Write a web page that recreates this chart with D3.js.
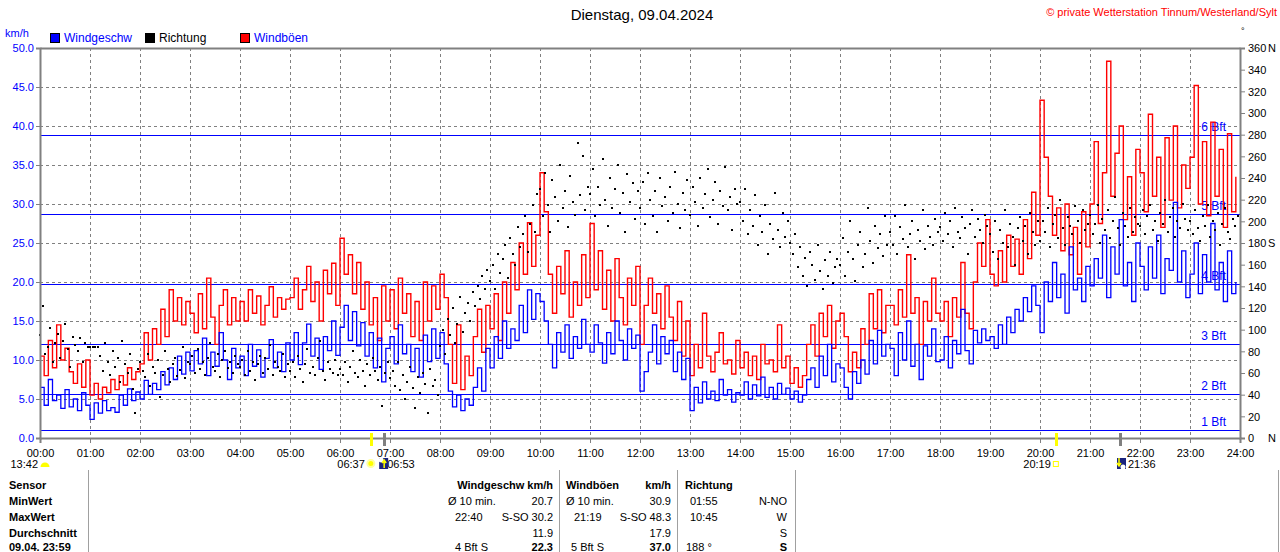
<!DOCTYPE html>
<html>
<head>
<meta charset="utf-8">
<script src="https://d3js.org/d3.v7.min.js"></script>
<title>Wind - Dienstag, 09.04.2024</title>
<style>
  body { margin:0; background:#fff; }
  svg  { display:block; font-family:"Liberation Sans", Arial, sans-serif; font-size:11px; }
  .axis text { font-family:"Liberation Sans", Arial, sans-serif; font-size:11px; }
  .b { font-weight:bold; }
</style>
</head>
<body>
<svg id="chart" width="1280" height="552"></svg>
<script>
// ---- data ----
// wind speed km/h, one value every 5 minutes, one row per hour
var windSpeed = [
  6.5,4.2,7.5,4.8,5.5,3.8,6.2,4.0,5.0,3.5,5.8,4.2,
  2.4,4.5,3.2,4.8,3.5,3.9,3.3,5.5,4.2,6.3,4.8,5.9,
  5.0,7.4,5.6,7.0,6.2,8.5,6.8,9.0,7.5,10.5,8.2,11.0,
  8.6,11.2,9.5,12.8,8.0,11.0,9.2,13.5,10.0,7.5,11.5,9.0,
  10.5,8.0,12.0,9.2,11.3,7.8,10.2,12.6,9.0,11.0,8.5,12.2,
  10.0,13.5,9.4,12.2,14.6,10.5,12.8,8.8,13.0,11.2,15.0,10.6,
  14.2,17.0,12.5,16.2,11.8,14.8,10.5,13.5,9.0,12.8,7.2,11.5,
  13.0,9.5,14.5,10.8,12.0,8.5,11.5,7.8,13.2,9.8,14.0,10.2,
  13.5,9.5,6.0,4.0,5.5,3.5,5.0,4.2,6.5,9.0,6.0,11.5,
  9.0,13.0,10.2,15.0,11.5,14.0,12.5,17.0,13.5,19.0,15.2,18.5,
  17.5,15.0,12.0,9.0,13.5,11.0,14.5,10.2,13.0,11.5,15.2,12.0,
  11.0,14.5,12.2,9.6,13.5,10.8,15.0,12.5,10.0,14.0,11.5,13.2,
  6.0,8.5,11.0,14.5,9.5,13.0,10.8,12.5,8.5,11.0,7.5,10.2,
  3.5,6.5,4.5,7.2,5.0,6.0,4.8,7.5,5.5,6.2,4.6,5.8,
  5.5,7.2,5.0,6.8,5.4,7.8,5.2,6.5,5.0,7.0,5.6,6.4,
  5.0,6.0,4.6,5.5,7.5,9.0,6.5,10.5,8.0,12.0,7.2,9.5,
  9.0,6.5,5.0,8.5,7.0,10.0,8.2,12.5,9.5,13.8,10.5,12.0,
  11.5,8.0,13.5,10.0,15.0,9.2,12.0,7.5,11.8,10.5,14.0,9.8,
  10.0,13.0,9.0,12.5,10.8,16.5,11.2,9.5,13.8,12.2,14.0,12.5,
  13.0,11.5,14.5,12.0,15.5,13.5,16.5,15.0,18.0,16.2,19.5,17.0,
  13.5,20.0,17.5,22.5,18.0,21.0,16.0,24.5,19.0,20.5,17.5,22.0,
  19.5,23.0,20.5,26.0,18.0,24.5,21.0,28.0,19.5,22.5,17.5,25.0,
  22.0,19.0,24.5,20.5,26.0,18.5,23.0,21.5,30.2,20.0,24.0,18.0,
  21.0,25.0,18.5,23.5,20.0,27.5,19.0,22.5,17.5,24.0,18.5,20.0
];
// gusts km/h, every 5 minutes
var windGust = [
  10.5,8.0,12.5,9.0,14.5,10.0,11.5,8.5,7.0,9.5,6.5,10.0,
  5.5,7.0,5.0,6.5,5.8,7.5,6.2,8.0,6.8,9.0,7.5,8.5,
  9.5,13.5,10.0,14.0,12.0,16.5,13.0,19.0,15.0,18.0,14.5,17.5,
  16.0,13.5,18.5,14.0,20.5,15.5,12.0,17.0,19.0,14.5,18.0,15.0,
  17.5,15.0,19.0,16.0,18.2,14.5,17.0,19.4,15.5,18.0,16.5,17.8,
  18.0,20.5,16.5,19.0,22.0,17.5,20.0,15.0,21.5,18.5,22.4,17.0,
  25.6,21.0,23.5,18.5,22.5,16.5,20.0,14.5,18.0,12.5,19.5,15.0,
  19.0,14.0,20.5,16.0,18.5,13.0,17.5,12.5,20.0,15.0,19.5,16.5,
  21.0,18.0,12.0,7.0,14.5,6.2,10.5,8.0,13.0,16.5,11.0,17.0,
  14.0,18.5,12.5,20.0,16.0,22.5,19.0,25.0,21.0,27.6,22.0,26.0,
  34.0,29.0,21.0,16.0,22.0,18.5,24.0,15.5,20.0,17.0,23.5,18.0,
  27.5,19.0,24.0,16.5,21.5,15.0,23.0,18.0,14.5,20.5,17.0,22.0,
  12.0,17.0,20.5,16.0,18.5,14.0,19.5,15.5,12.5,17.5,10.5,15.0,
  8.0,12.0,9.0,16.0,10.5,8.5,11.0,13.5,9.5,10.0,8.2,12.5,
  9.0,11.0,8.0,10.5,7.5,12.0,9.5,10.0,8.5,14.5,9.0,10.5,
  7.0,9.0,6.5,8.0,12.0,14.5,10.5,16.0,13.0,17.0,11.5,15.0,
  16.0,13.0,8.5,11.0,9.0,14.0,12.0,18.5,14.0,19.0,13.5,17.0,
  17.0,14.5,19.0,15.5,23.5,16.0,18.0,12.0,17.5,15.0,20.5,16.0,
  15.0,17.5,13.0,18.0,15.5,22.5,16.0,14.0,20.0,25.0,22.0,28.0,
  21.0,19.5,24.0,20.0,26.0,22.0,25.5,21.0,28.0,23.0,31.5,26.0,
  43.3,36.0,31.0,26.0,29.5,24.0,30.0,23.5,27.0,21.0,29.0,24.5,
  30.0,38.0,27.5,34.0,48.3,31.0,36.5,40.0,28.0,33.5,26.0,37.0,
  34.0,29.0,41.5,31.0,36.0,27.0,38.5,30.5,40.0,29.5,35.0,32.0,
  36.0,45.2,30.0,38.0,28.5,40.5,31.0,37.0,27.0,39.0,29.0,33.5
];
// direction in degrees, every 3 minutes
var windDir = [
  95,122,78,84,102,70,88,96,74,90,105,82,66,93,86,80,92,70,88,84,
  84,84,84,84,76,62,88,70,58,80,66,74,52,90,68,60,78,45,23,64,
  70,62,56,78,48,66,60,72,38,58,80,64,52,68,74,57,63,84,55,70,
  68,76,60,82,64,70,58,74,88,66,62,78,56,72,80,65,70,60,76,68,
  66,72,58,80,62,70,54,68,76,60,74,64,86,58,70,66,62,78,56,68,
  62,70,56,76,64,52,68,82,60,66,58,74,90,62,54,70,64,60,72,58,
  64,58,70,52,66,80,60,56,72,62,48,68,58,74,62,54,66,30,60,70,
  55,62,48,70,44,58,36,52,66,46,28,56,42,60,50,23,64,48,54,40,
  85,100,78,110,95,120,88,105,130,98,115,125,108,135,122,140,128,150,138,155,
  145,160,138,170,152,165,178,148,185,170,160,195,176,188,205,172,198,215,190,225,
  230,205,245,215,190,238,222,200,252,212,228,195,242,218,206,272,224,260,210,232,
  225,248,205,232,215,258,220,196,240,212,230,252,208,226,190,244,218,235,202,228,
  212,236,198,245,220,205,228,190,240,214,222,200,232,208,246,216,194,226,210,238,
  206,232,218,196,240,212,225,248,204,220,236,198,228,214,250,210,222,192,230,216,
  218,200,230,188,210,196,224,178,205,190,215,170,198,184,226,192,176,208,186,200,
  180,170,188,158,176,150,166,140,172,160,146,178,154,138,164,150,172,143,158,165,
  160,185,150,172,200,165,145,178,190,158,170,212,182,162,196,175,188,168,205,178,
  190,178,205,170,195,184,215,176,188,200,165,192,182,210,174,196,186,178,202,190,
  195,182,208,188,200,176,212,190,185,204,194,170,198,210,186,202,192,180,206,196,
  188,172,200,165,192,180,210,176,198,186,160,194,204,182,196,170,208,190,178,200,
  182,200,190,212,176,198,206,185,220,194,178,204,196,188,214,200,180,210,192,198,
  206,188,198,215,180,202,192,210,185,200,222,194,178,208,196,186,212,190,204,198,
  196,210,188,205,215,192,200,182,208,198,220,190,204,212,186,200,194,216,202,192,
  200,188,210,194,182,205,196,215,186,200,192,208,178,198,212,190,184,202,196,205
];
// Beaufort limits (km/h) drawn as blue lines
var bftLimits = [1.0, 5.7, 12.1, 19.7, 28.7, 38.8];
var bftLabels = ["1 Bft","2 Bft","3 Bft","4 Bft","5 Bft","6 Bft"];
// sun / moon times
var sunMoon = [
  {time:"06:37", h:6+37/60,  kind:"sunrise"},
  {time:"06:53", h:6+53/60,  kind:"moonrise"},
  {time:"20:19", h:20+19/60, kind:"sunset"},
  {time:"21:36", h:21+36/60, kind:"moonset"}
];
var dirNames = [{deg:0, name:"N"}, {deg:180, name:"S"}, {deg:360, name:"N"}];

// statistics table
var rowLabels = ["Sensor","MinWert","MaxWert","Durchschnitt","09.04.  23:59"];
var speedCol = [["Ø 10 min.","20.7"],["22:40","S-SO 30.2"],["","11.9"],["4 Bft S","22.3"]];
var gustCol  = [["Ø 10 min.","30.9"],["21:19","S-SO 48.3"],["","17.9"],["5 Bft S","37.0"]];
var dirCol   = [["01:55","N-NO"],["10:45","W"],["","S"],["188 °","S"]];

// ---- drawing ----
var svg = d3.select("#chart");
var x = d3.scaleLinear().domain([0,24]).range([40,1240]);
var y = d3.scaleLinear().domain([0,50]).range([438,48]);
var yDir = d3.scaleLinear().domain([0,360]).range([438,48]);
var grey = "#808080";

// title, copyright
svg.append("text").attr("x",642).attr("y",20).attr("text-anchor","middle")
   .style("font-size","15px").text("Dienstag, 09.04.2024");
svg.append("text").attr("x",1277).attr("y",16).attr("text-anchor","end")
   .style("font-size","11px").attr("fill","#ff0000")
   .text("© private Wetterstation Tinnum/Westerland/Sylt");
svg.append("text").attr("x",1241).attr("y",34).style("font-size","9px").text("°");

// legend
svg.append("text").attr("x",5).attr("y",37).attr("fill","#0000ff").text("km/h");
var legend = [
  {name:"Windgeschw", col:"#0000ff", txt:"#0000ff", x:50},
  {name:"Richtung",   col:"#000000", txt:"#000000", x:145},
  {name:"Windböen",   col:"#ff0000", txt:"#0000ff", x:240}
];
var lg = svg.append("g").selectAll("g").data(legend).join("g");
lg.append("rect").attr("x",d=>d.x+0.5).attr("y",33.5).attr("width",9).attr("height",9)
  .attr("fill",d=>d.col).attr("stroke","#000");
lg.append("text").attr("x",d=>d.x+14).attr("y",42).attr("fill",d=>d.txt)
  .style("font-size","12px").text(d=>d.name);

// dashed grid
svg.append("g").selectAll("line").data(d3.range(5,50,5)).join("line")
  .attr("x1",x(0)).attr("x2",x(24)).attr("y1",d=>Math.round(y(d))+0.5).attr("y2",d=>Math.round(y(d))+0.5)
  .attr("stroke",grey).attr("stroke-dasharray","3,3");
svg.append("g").selectAll("line").data(d3.range(1,24)).join("line")
  .attr("x1",d=>x(d)+0.5).attr("x2",d=>x(d)+0.5).attr("y1",y(50)).attr("y2",y(0))
  .attr("stroke",grey).attr("stroke-dasharray","3,3");

// Beaufort lines + labels
var bft = svg.append("g").selectAll("g").data(bftLimits).join("g");
bft.append("line").attr("x1",x(0)).attr("x2",x(24))
  .attr("y1",d=>Math.round(y(d))+0.5).attr("y2",d=>Math.round(y(d))+0.5)
  .attr("stroke","#0000ff");
bft.append("text").attr("x",x(24)-14).attr("y",d=>y(d)-4).attr("text-anchor","end")
  .attr("fill","#0000ff").style("font-size","12px").text((d,i)=>bftLabels[i]);

// series
var gustPts  = windGust.map((v,i)=>({t:i*5/60, v:v}));
var speedPts = windSpeed.map((v,i)=>({t:i*5/60, v:v}));
var dirPts   = windDir.map((v,i)=>({t:i*3/60, v:v}));
var line = d3.line().x(d=>x(d.t)).y(d=>y(d.v)).curve(d3.curveStepAfter);

svg.append("path").datum(gustPts).attr("d",line).attr("fill","none")
  .attr("stroke","#ff0000").attr("stroke-width",1.4);
svg.append("path").datum(speedPts).attr("d",line).attr("fill","none")
  .attr("stroke","#0000ff").attr("stroke-width",1.3);
svg.append("g").attr("shape-rendering","crispEdges").selectAll("rect").data(dirPts).join("rect")
  .attr("x",d=>Math.round(x(d.t))-1).attr("y",d=>Math.round(yDir(d.v))-1).attr("width",2).attr("height",2)
  .attr("fill","#000");

// axes
var fmtHour = h => (h<10?"0":"")+h+":00";
var ax = svg.append("g").attr("class","axis").attr("transform","translate(0,"+y(0)+")")
  .call(d3.axisBottom(x).tickValues(d3.range(0,25)).tickFormat(fmtHour).tickSize(5).tickPadding(6));
var ayl = svg.append("g").attr("class","axis").attr("transform","translate("+x(0)+",0)")
  .call(d3.axisLeft(y).tickValues(d3.range(0,50.1,5)).tickFormat(d3.format(".1f")).tickSize(4).tickPadding(2));
var ayr = svg.append("g").attr("class","axis").attr("transform","translate("+x(24)+",0)")
  .call(d3.axisRight(yDir).tickValues(d3.range(0,361,20)).tickSize(5).tickPadding(3));
var axt = svg.append("g").attr("class","axis").attr("transform","translate(0,"+y(50)+")")
  .call(d3.axisTop(x).tickValues([]).tickSizeOuter(0));
[ax,ayl,ayr,axt].forEach(function(g){
  g.select(".domain").attr("stroke",grey).attr("stroke-width",2);
  g.selectAll(".tick line").attr("stroke",grey);
  g.selectAll("text").attr("fill","#000");
});
ayl.selectAll("text").attr("fill","#0000ff");
ayr.selectAll("text").attr("dy","0.35em");
svg.append("g").selectAll("text").data(dirNames).join("text")
  .attr("x",x(24)+28).attr("y",d=>yDir(d.deg)).attr("dy","0.35em").text(d=>d.name);

// sun & moon markers
var sm = svg.append("g").selectAll("g").data(sunMoon).join("g");
sm.append("rect").attr("x",d=>Math.round(x(d.h))-1).attr("y",y(0)-5).attr("width",3).attr("height",13)
  .attr("fill",d=>d.kind.indexOf("sun")==0 ? "#ffff00" : grey);
sm.filter(d=>d.kind.indexOf("sun")==0).append("text")
  .attr("x",d=>x(d.h)-(d.kind=="sunrise"?6:5)).attr("y",468).attr("text-anchor","end").text(d=>d.time);
sm.filter(d=>d.kind.indexOf("moon")==0).append("text")
  .attr("x",d=>x(d.h)+(d.kind=="moonrise"?3:8)).attr("y",468).text(d=>d.time);
// sunrise icon
sm.filter(d=>d.kind=="sunrise").append("circle").attr("cx",d=>x(d.h)).attr("cy",463.5).attr("r",3.5)
  .attr("fill","#ffff00").attr("stroke","#ffffa0").attr("stroke-width",2);
// sunset icon
sm.filter(d=>d.kind=="sunset").append("rect").attr("x",d=>x(d.h)-2.5).attr("y",461.5).attr("width",5).attr("height",5)
  .attr("fill","none").attr("stroke","#ffff00");
// moon icons
var moon = sm.filter(d=>d.kind.indexOf("moon")==0);
moon.append("rect").attr("x",d=>x(d.h)-(d.kind=="moonrise"?5:3)).attr("y",458).attr("width",9).attr("height",11)
  .attr("fill","#1a237e");
moon.append("circle").attr("cx",d=>x(d.h)-(d.kind=="moonrise"?3:-3)).attr("cy",d=>d.kind=="moonrise"?460:467).attr("r",2.5)
  .attr("fill","#ffffff");
moon.append("path").attr("d",d=>{
    var cx = x(d.h)+(d.kind=="moonrise"?0:-1);
    return d.kind=="moonrise"
      ? "M"+(cx-2)+",463 L"+cx+",460 L"+(cx+2)+",463 M"+cx+",460 L"+cx+",468"
      : "M"+(cx-2)+",463 L"+cx+",466 L"+(cx+2)+",463 M"+cx+",458 L"+cx+",466";
  }).attr("stroke","#ffff00").attr("stroke-width",1.5).attr("fill","none");
// moon set from the previous day, left edge
svg.append("text").attr("x",38).attr("y",468).attr("text-anchor","end").text("13:42");
svg.append("path").attr("d",d3.arc()({innerRadius:0,outerRadius:4.5,startAngle:-Math.PI/2,endAngle:Math.PI/2}))
  .attr("transform","translate(45,467)").attr("fill","#ffff00");

// table
var rowY = [489,505,521,537,551];
svg.append("g").selectAll("text").data(rowLabels).join("text")
  .attr("class","b").attr("x",9).attr("y",(d,i)=>rowY[i]).text(d=>d);
[88,559,677,795,1278].forEach(function(xx){
  svg.append("line").attr("x1",xx+0.5).attr("x2",xx+0.5).attr("y1",470).attr("y2",552).attr("stroke","#a0a0a0");
});
svg.append("text").attr("class","b").attr("x",553).attr("y",rowY[0]).attr("text-anchor","end").text("Windgeschw km/h");
svg.append("text").attr("class","b").attr("x",566).attr("y",rowY[0]).text("Windböen");
svg.append("text").attr("class","b").attr("x",671).attr("y",rowY[0]).attr("text-anchor","end").text("km/h");
svg.append("text").attr("class","b").attr("x",685).attr("y",rowY[0]).text("Richtung");
speedCol.forEach(function(c,i){
  if (c[0]) svg.append("text").attr("x",i==0?448:455).attr("y",rowY[i+1]).text(c[0]);
  svg.append("text").attr("x",553).attr("y",rowY[i+1]).attr("text-anchor","end").attr("class",i==3?"b":null).text(c[1]);
});
gustCol.forEach(function(c,i){
  if (c[0]) svg.append("text").attr("x",i==0?566:(i==1?574:571)).attr("y",rowY[i+1]).text(c[0]);
  svg.append("text").attr("x",671).attr("y",rowY[i+1]).attr("text-anchor","end").attr("class",i==3?"b":null).text(c[1]);
});
dirCol.forEach(function(c,i){
  if (c[0]) svg.append("text").attr("x",i==3?686:690).attr("y",rowY[i+1]).text(c[0]);
  svg.append("text").attr("x",787).attr("y",rowY[i+1]).attr("text-anchor","end").attr("class",i==3?"b":null).text(c[1]);
});
</script>
</body>
</html>
